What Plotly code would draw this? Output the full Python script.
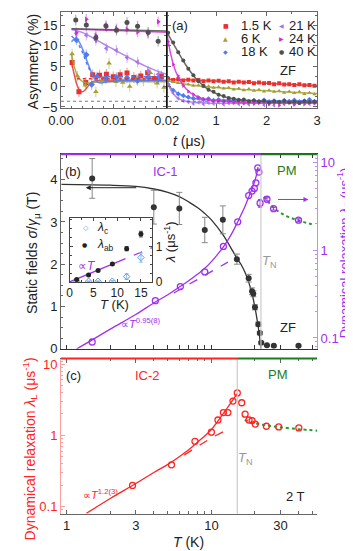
import math
import plotly.graph_objects as go

# ---------------- panel (a): ZF asymmetry ----------------
A_TEMPS = ["1.5 K", "6 K", "18 K", "21 K", "24 K", "40 K"]

# early times (0 - 0.02 us)
TS_15 = [0.0021, 0.0034, 0.0047, 0.0060, 0.0073, 0.0086, 0.0099, 0.0112, 0.0125, 0.0138, 0.0151, 0.0164, 0.0177, 0.0190]
AS_15 = [5.9, -1.3, 1.0, 2.9, 2.8, 3.0, 2.4, 2.9, 3.3, 2.2, 2.6, 3.4, 2.0, 2.6]
TS_6 = [0.0021, 0.0031, 0.0046, 0.0066, 0.0078, 0.0091, 0.0104, 0.0117, 0.0130, 0.0143, 0.0156, 0.0169, 0.0182, 0.0195]
AS_6 = [8.0, 2.6, 0.3, -1.3, 1.5, 5.7, 1.2, 1.0, 0.0, 1.8, 1.4, 3.4, 0.8, -0.2]
TS_18 = [0.0029, 0.0048, 0.0058, 0.0068, 0.0085, 0.0105, 0.0125, 0.0145, 0.0165, 0.0184]
AS_18 = [11.5, 7.8, 0.5, 2.4, 2.0, 2.2, 2.1, 1.5, 2.3, 1.9]
TS_21 = [0.0029, 0.0048, 0.0066, 0.0086, 0.0105, 0.0125, 0.0145, 0.0165, 0.0184]
AS_21 = [13.1, 12.6, 11.4, 9.4, 8.9, 7.1, 6.0, 3.8, 3.0]
TS_24 = [0.0029, 0.0048, 0.0066, 0.0086, 0.0105, 0.0125, 0.0145, 0.0165, 0.0184]
AS_24 = [13.2, 16.5, 12.5, 14.6, 14.2, 14.0, 13.4, 13.0, 15.9]
TS_40 = [0.0028, 0.0048, 0.0066, 0.0085, 0.0105, 0.0125, 0.0145, 0.0165, 0.0184]
AS_40 = [16.3, 15.1, 12.0, 14.9, 13.8, 15.7, 14.8, 13.3, 11.1]
A_ERR_SHORT = 1.3

# fits, early times
FS_15_T = [0.002, 0.0025, 0.003, 0.0035, 0.004, 0.0045, 0.005, 0.0055, 0.006, 0.007, 0.02]
FS_15_A = [6.0, 3.0, 0.5, -0.9, -1.3, -0.9, -0.1, 0.7, 1.2, 1.5, 1.5]
FS_6_T = [0.002, 0.0025, 0.003, 0.0035, 0.004, 0.005, 0.006, 0.008, 0.02]
FS_6_A = [7.8, 5.0, 3.0, 1.9, 1.3, 0.9, 1.0, 1.2, 1.2]
FS_18_T = [0.002, 0.0027, 0.0032, 0.004, 0.005, 0.006, 0.0068, 0.0075, 0.009, 0.012, 0.02]
FS_18_A = [11.0, 11.8, 11.4, 9.5, 6.0, 2.8, 1.2, 0.9, 1.2, 1.5, 1.5]
FS_21_T = [0.002, 0.004, 0.006, 0.008, 0.010, 0.012, 0.014, 0.016, 0.018, 0.020]
FS_21_A = [14.0, 13.3, 12.0, 10.5, 9.1, 7.7, 6.3, 5.0, 3.9, 3.0]
FS_24_T = [0.002, 0.020]
FS_24_A = [14.1, 13.3]
FS_40_T = [0.002, 0.020]
FS_40_A = [14.2, 13.6]
FS_18D_T = [0.002, 0.003, 0.004, 0.005, 0.006, 0.007, 0.009, 0.02]
FS_18D_A = [12.4, 11.0, 8.6, 5.3, 3.0, 2.3, 2.4, 2.4]
FS_15D_T = [0.003, 0.02]
FS_15D_A = [1.9, 1.9]

# long times (0.02 - 3 us)
T_LONG = [0.05, 0.15, 0.25, 0.35, 0.45, 0.55, 0.65, 0.75, 0.85, 0.95, 1.05, 1.15, 1.25, 1.35, 1.45,
          1.55, 1.65, 1.75, 1.85, 1.95, 2.05, 2.15, 2.25, 2.35, 2.45, 2.55, 2.65, 2.75, 2.85, 2.95]
AL_15 = [1.9, 1.6, 1.8, 1.5, 1.7, 1.5, 1.6, 1.3, 1.5, 1.3, 1.4, 1.2, 1.3, 1.0, 1.2,
         1.0, 1.1, 0.8, 1.0, 0.8, 0.9, 0.6, 0.8, 0.5, 0.6, 0.4, 0.6, 0.3, 0.4, 0.2]
AL_6 = [1.4, 1.1, 0.9, 0.5, 0.6, 0.2, 0.3, -0.1, 0.1, -0.3, -0.1, -0.5, -0.3, -0.7, -0.5,
        -0.9, -0.6, -1.0, -0.8, -1.2, -0.9, -1.3, -1.1, -1.5, -1.2, -1.6, -1.3, -1.8, -1.5, -1.9]
AL_18 = [0.5, -0.9, -1.8, -2.2, -2.6, -2.9, -2.8, -3.2, -3.0, -3.4, -3.2, -3.5, -3.3, -3.6, -3.3,
         -3.5, -3.7, -3.4, -3.6, -3.3, -3.7, -3.5, -3.8, -3.4, -3.6, -3.3, -3.7, -3.5, -3.2, -3.6]
AL_21 = [0.4, -1.6, -2.9, -3.5, -3.8, -4.2, -3.9, -4.3, -4.0, -4.2, -3.9, -4.4, -4.1, -3.8, -4.3,
         -4.0, -4.4, -4.1, -3.9, -4.5, -4.2, -4.6, -4.0, -4.3, -3.9, -4.4, -4.1, -3.8, -4.3, -4.0]
AL_24 = [11.0, 5.4, 2.6, 0.2, -1.2, -1.9, -2.6, -3.1, -3.2, -3.6, -3.4, -3.8, -3.7, -4.0, -3.8,
         -4.1, -3.9, -4.2, -4.0, -3.8, -4.3, -4.0, -4.6, -4.1, -3.9, -4.4, -4.0, -4.3, -3.9, -4.1]
AL_40 = [13.2, 10.8, 8.4, 6.4, 4.4, 2.8, 1.3, 0.2, -0.8, -1.3, -2.0, -2.3, -2.8, -3.0, -3.3,
         -3.2, -3.6, -3.4, -3.7, -3.5, -3.9, -3.6, -3.8, -3.5, -3.9, -3.7, -4.0, -3.6, -3.8, -3.7]

# fits, long times
FL_15_T = [0.02, 0.5, 1.0, 1.5, 2.0, 2.5, 3.0]
FL_15_A = [1.8, 1.6, 1.35, 1.1, 0.8, 0.5, 0.2]
FL_6_T = [0.02, 0.2, 0.5, 1.0, 1.5, 2.0, 2.5, 3.0]
FL_6_A = [1.5, 1.0, 0.4, -0.25, -0.7, -1.05, -1.4, -1.7]
FL_18_T = [0.02, 0.1, 0.2, 0.3, 0.5, 0.8, 1.0, 1.5, 2.0, 3.0]
FL_18_A = [1.2, -0.3, -1.3, -2.0, -2.8, -3.2, -3.3, -3.4, -3.5, -3.5]
FL_21_T = [0.02, 0.1, 0.2, 0.3, 0.5, 0.8, 1.2, 2.0, 3.0]
FL_21_A = [2.0, -0.8, -2.4, -3.2, -3.8, -4.0, -4.1, -4.1, -4.0]
FL_24_T = [0.02, 0.05, 0.1, 0.15, 0.2, 0.3, 0.4, 0.5, 0.7, 1.0, 1.5, 2.0, 3.0]
FL_24_A = [13.5, 11.2, 8.0, 5.6, 3.7, 1.2, -0.5, -1.6, -2.8, -3.5, -3.9, -4.0, -4.0]
FL_40_T = [0.02, 0.2, 0.4, 0.6, 0.8, 1.0, 1.2, 1.4, 1.7, 2.0, 2.5, 3.0]
FL_40_A = [13.5, 9.5, 5.3, 2.0, -0.3, -1.7, -2.6, -3.1, -3.5, -3.7, -3.8, -3.8]

A_BASELINE = -3.6

# ---------------- panel (b): ZF static field and lambda_T ----------------
TN_ZF = 22.0
T_ZF = [1.5, 4.0, 6.0, 9.0, 12.0, 15.0, 18.1, 19.1, 19.5, 20.0, 21.1, 21.6, 22.1, 24.2, 27.0, 40.0]
B_STATIC = [4.03, 3.35, 3.32, 2.81, 3.05, 2.12, 1.67, 1.36, 1.30, 0.98, 0.58, 0.37, 0.14, 0.08, 0.07, 0.07]
B_ERR = [0.47, 0.40, 0.38, 0.30, 0.33, 0.12, 0.09, 0.08, 0.07, 0.06, 0.05, 0.04, 0.03, 0.02, 0.02, 0.02]
T_B_FIT = [0.92, 2, 3, 4, 5, 6, 7, 8, 9, 10, 12, 14, 15, 16, 17, 18, 19, 20, 21, 21.5, 22.0]
B_FIT = [3.89, 3.87, 3.84, 3.78, 3.70, 3.60, 3.47, 3.34, 3.20, 3.05, 2.70, 2.32, 2.14, 2.0, 1.82,
         1.6, 1.33, 0.98, 0.55, 0.3, 0.0]

T_LT = [1.5, 4.1, 6.1, 9.0, 12.1, 15.2, 18.1, 19.1, 19.8, 20.3, 20.9, 21.3]
LAM_T = [0.090, 0.266, 0.384, 0.565, 1.10, 2.10, 4.17, 4.70, 5.03, 5.83, 8.64, 7.73]
T_LT_PM = [21.7, 24.2, 26.9, 40.0]
LAM_T_PM = [3.42, 3.79, 2.96, 2.19]
LAM_T_PM_ERR = [0.35, 0.15, 0.1, 0.08]
T_LT_FIT = [1.17, 1.5, 2, 3, 4, 5, 6, 7, 8, 9, 10, 11, 12, 13, 14, 15, 16, 17, 18, 19, 20, 20.6, 21.0]
LAM_T_FIT = [0.075, 0.095, 0.126, 0.185, 0.25, 0.31, 0.38, 0.45, 0.53, 0.62, 0.74, 0.89, 1.07, 1.3,
             1.6, 2.0, 2.5, 3.1, 3.9, 4.9, 6.2, 7.4, 8.8]
T_LT_POW = [5.5, 8.0, 10.5, 13.0]
LAM_T_POW = [0.325, 0.46, 0.60, 0.73]
T_LT_PMFIT = [23, 24.5, 26, 28, 30, 33, 36, 40, 45, 51]
LAM_T_PMFIT = [4.05, 3.6, 3.2, 2.88, 2.66, 2.44, 2.3, 2.18, 2.05, 1.94]

# inset
T_IN = [1.5, 4, 6, 9, 12, 15]
LAM_AB = [0.07, 0.20, 0.32, 0.51, 0.94, 1.35]
LAM_AB_ERR = [0.02, 0.02, 0.02, 0.03, 0.06, 0.08]
LAM_C = [0.02, 0.02, 0.02, 0.02, 0.15, 0.69]
LAM_C_ERR = [0.01, 0.01, 0.01, 0.02, 0.08, 0.13]
T_IN_LIN = [0, 10]
LAM_IN_LIN = [0, 0.56]
T_IN_LIN_D = [10, 17.4]
LAM_IN_LIN_D = [0.56, 0.97]

# ---------------- panel (c): 2 T lambda_L ----------------
TN_2T = 15.1
T_LL = [2.85, 5.3, 7.7, 10.0, 11.1, 12.1, 13.0, 14.1, 15.1]
LAM_L = [0.197, 0.384, 0.824, 1.107, 1.64, 2.09, 2.09, 3.03, 3.94]
T_LL_PM = [16.2, 17.1, 18.2, 19.1, 20.1, 24.0, 29.2, 40.2]
LAM_L_PM = [2.87, 1.98, 1.64, 1.61, 1.44, 1.34, 1.31, 1.27]
T_LL_FIT = [1.37, 2, 3, 4, 5, 6, 7, 8, 9, 10, 11, 12, 13, 14, 15.1]
LAM_L_FIT = [0.08, 0.129, 0.21, 0.30, 0.39, 0.5, 0.63, 0.8, 0.98, 1.2, 1.55, 1.98, 2.5, 3.1, 3.9]
T_LL_POW = [6.5, 8.0, 10.0, 13.2]
LAM_L_POW = [0.53, 0.70, 0.92, 1.23]
T_LL_PMFIT = [17, 20, 25, 30, 40, 54]
LAM_L_PMFIT = [1.64, 1.48, 1.36, 1.30, 1.22, 1.16]

# ---------------- style ----------------
W, H = 353, 551
FONT = "Liberation Sans, Arial, sans-serif"
COLORS = ["#e8312f", "#a3a032", "#4d7cf0", "#a673e8", "#d22fd2", "#505050"]
SYMBOLS = ["square", "triangle-up", "diamond", "triangle-left", "triangle-right", "circle"]
GLYPHS = ["■", "▲", "◆", "◀", "▶", "●"]
PURPLE = "#a030f0"
PURPLE_AX = "#c58cff"
GREEN = "#1e7b1e"
RED = "#ff2424"
RED_AX = "#ff9c9c"
GRAY = "#666666"


def px(x):
    return x / W


def py(y):
    return 1 - y / H


def rgba(hexc, a):
    h = hexc.lstrip("#")
    return "rgba(%d,%d,%d,%.2f)" % (int(h[0:2], 16), int(h[2:4], 16), int(h[4:6], 16), a)


fig = go.Figure()

short = [(TS_15, AS_15), (TS_6, AS_6), (TS_18, AS_18), (TS_21, AS_21), (TS_24, AS_24), (TS_40, AS_40)]
short_fit = [(FS_15_T, FS_15_A), (FS_6_T, FS_6_A), (FS_18_T, FS_18_A), (FS_21_T, FS_21_A),
             (FS_24_T, FS_24_A), (FS_40_T, FS_40_A)]
long_pts = [AL_15, AL_6, AL_18, AL_21, AL_24, AL_40]
long_fit = [(FL_15_T, FL_15_A), (FL_6_T, FL_6_A), (FL_18_T, FL_18_A), (FL_21_T, FL_21_A),
            (FL_24_T, FL_24_A), (FL_40_T, FL_40_A)]

for i in range(6):
    c = COLORS[i]
    t, a = short[i]
    fig.add_trace(go.Scatter(x=t, y=a, mode="markers", xaxis="x", yaxis="y",
                             marker=dict(symbol=SYMBOLS[i], size=5, color=c),
                             error_y=dict(type="constant", value=A_ERR_SHORT, color=rgba(c, 0.45),
                                          thickness=1.2, width=0)))
    ft, fa = short_fit[i]
    fig.add_trace(go.Scatter(x=ft, y=fa, mode="lines", xaxis="x", yaxis="y", line_shape="spline",
                             line=dict(color=rgba(c, 0.85), width=1.5)))
    fig.add_trace(go.Scatter(x=T_LONG, y=long_pts[i], mode="markers", xaxis="x2", yaxis="y2",
                             marker=dict(symbol=SYMBOLS[i], size=4, color=c),
                             error_y=dict(type="constant", value=0.3, color=rgba(c, 0.4),
                                          thickness=1, width=0)))
    lt, la = long_fit[i]
    fig.add_trace(go.Scatter(x=lt, y=la, mode="lines", xaxis="x2", yaxis="y2", line_shape="spline",
                             line=dict(color=rgba(c, 0.85), width=1.5)))

fig.add_trace(go.Scatter(x=FS_18D_T, y=FS_18D_A, mode="lines", xaxis="x", yaxis="y", line_shape="spline",
                         line=dict(color=COLORS[2], width=1.5, dash="dot")))
fig.add_trace(go.Scatter(x=FS_15D_T, y=FS_15D_A, mode="lines", xaxis="x", yaxis="y",
                         line=dict(color=COLORS[0], width=1.5, dash="dot")))

# ---- panel (b)
fig.add_trace(go.Scatter(x=T_B_FIT, y=B_FIT, mode="lines", xaxis="x3", yaxis="y3", line_shape="spline",
                         line=dict(color="#333333", width=1.3)))
fig.add_trace(go.Scatter(x=T_ZF, y=B_STATIC, mode="markers", xaxis="x3", yaxis="y3",
                         marker=dict(symbol="circle", size=6, color="#333333"),
                         error_y=dict(type="data", array=B_ERR, color="#888888", thickness=1, width=3)))
fig.add_trace(go.Scatter(x=T_LT_FIT, y=LAM_T_FIT, mode="lines", xaxis="x3", yaxis="y4", line_shape="spline",
                         line=dict(color=PURPLE, width=1.3)))
fig.add_trace(go.Scatter(x=T_LT_POW, y=LAM_T_POW, mode="lines", xaxis="x3", yaxis="y4",
                         line=dict(color=PURPLE, width=1.3, dash="dash")))
fig.add_trace(go.Scatter(x=T_LT_PMFIT, y=LAM_T_PMFIT, mode="lines", xaxis="x3", yaxis="y4", line_shape="spline",
                         line=dict(color="#2a9a2a", width=2, dash="dot")))
fig.add_trace(go.Scatter(x=T_LT, y=LAM_T, mode="markers", xaxis="x3", yaxis="y4",
                         marker=dict(symbol="circle-open", size=6, color=PURPLE, line=dict(width=1.3))))
fig.add_trace(go.Scatter(x=T_LT_PM, y=LAM_T_PM, mode="markers", xaxis="x3", yaxis="y4",
                         marker=dict(symbol="circle-open", size=6, color=PURPLE, line=dict(width=1.3)),
                         error_y=dict(type="data", array=LAM_T_PM_ERR, color=PURPLE, thickness=1, width=2)))

# inset
fig.add_trace(go.Scatter(x=T_IN_LIN, y=LAM_IN_LIN, mode="lines", xaxis="x6", yaxis="y6",
                         line=dict(color=PURPLE, width=1.3)))
fig.add_trace(go.Scatter(x=T_IN_LIN_D, y=LAM_IN_LIN_D, mode="lines", xaxis="x6", yaxis="y6",
                         line=dict(color=PURPLE, width=1.3, dash="dash")))
fig.add_trace(go.Scatter(x=T_IN, y=LAM_C, mode="markers", xaxis="x6", yaxis="y6",
                         marker=dict(symbol="diamond-open", size=5, color="#5b9be0", line=dict(width=1)),
                         error_y=dict(type="data", array=LAM_C_ERR, color="#8fb8e8", thickness=1, width=2)))
fig.add_trace(go.Scatter(x=T_IN, y=LAM_AB, mode="markers", xaxis="x6", yaxis="y6",
                         marker=dict(symbol="circle", size=5, color="#222222"),
                         error_y=dict(type="data", array=LAM_AB_ERR, color="#555555", thickness=1, width=2)))

# ---- panel (c)
fig.add_trace(go.Scatter(x=T_LL_FIT, y=LAM_L_FIT, mode="lines", xaxis="x5", yaxis="y5", line_shape="spline",
                         line=dict(color=RED, width=1.3)))
fig.add_trace(go.Scatter(x=T_LL_POW, y=LAM_L_POW, mode="lines", xaxis="x5", yaxis="y5",
                         line=dict(color=RED, width=1.3, dash="dash")))
fig.add_trace(go.Scatter(x=T_LL_PMFIT, y=LAM_L_PMFIT, mode="lines", xaxis="x5", yaxis="y5", line_shape="spline",
                         line=dict(color="#2a9a2a", width=2, dash="dot")))
fig.add_trace(go.Scatter(x=T_LL + T_LL_PM, y=LAM_L + LAM_L_PM, mode="markers", xaxis="x5", yaxis="y5",
                         marker=dict(symbol="circle-open", size=6, color=RED, line=dict(width=1.3))))

# ---------------- axes ----------------
tick = dict(ticks="inside", showgrid=False, zeroline=False, showline=True,
            tickfont=dict(size=13, family=FONT, color="#222"))

XLOG = [math.log10(0.913), math.log10(53.7)]
T_MAJ = [1, 3, 10, 30]
T_MIN = [2, 4, 5, 6, 7, 8, 9, 20, 40, 50]
LOG_MIN = [0.08, 0.09, 0.2, 0.3, 0.4, 0.5, 0.6, 0.7, 0.8, 0.9, 2, 3, 4, 5, 6, 7, 8, 9]

fig.update_layout(
    width=W, height=H, margin=dict(l=0, r=0, t=0, b=0),
    plot_bgcolor="white", paper_bgcolor="white", showlegend=False,
    font=dict(family=FONT, size=13, color="#222"),
    xaxis=dict(tick, domain=[px(42), px(153)], range=[0, 0.02], anchor="y", mirror="allticks",
               linecolor=GRAY, tickcolor=GRAY, ticklen=4, tickvals=[0, 0.01], ticktext=["0.00", "0.01"],
               minor=dict(ticks="inside", ticklen=2.5, dtick=0.002, tickcolor=GRAY)),
    yaxis=dict(tick, domain=[py(100), py(2)], range=[-5.3, 18.3], anchor="x", mirror="allticks",
               linecolor=GRAY, tickcolor=GRAY, ticklen=4, tickvals=[-5, 0, 5, 10, 15],
               minor=dict(ticks="inside", ticklen=2.5, dtick=2.5, tickcolor=GRAY)),
    xaxis2=dict(tick, domain=[px(153), px(311)], range=[0.02, 3.0], anchor="y2", mirror="allticks",
                linecolor=GRAY, tickcolor=GRAY, ticklen=4, tickvals=[0.02, 1, 2, 3],
                ticktext=["0.02", "1", "2", "3"],
                minor=dict(ticks="inside", ticklen=2.5, tickvals=[0.5, 1.5, 2.5], tickcolor=GRAY)),
    yaxis2=dict(tick, domain=[py(100), py(2)], range=[-5.3, 18.3], anchor="x2", mirror="allticks",
                linecolor=GRAY, tickcolor=GRAY, ticklen=4, tickvals=[-5, 0, 5, 10, 15], showticklabels=False,
                minor=dict(ticks="inside", ticklen=2.5, dtick=2.5, tickcolor=GRAY)),
    # panel (b)
    xaxis3=dict(tick, domain=[px(42), px(311)], type="log", range=XLOG, anchor="y3", mirror="allticks",
                linecolor="#333", tickcolor="#333", ticklen=4, tickvals=T_MAJ, showticklabels=False,
                minor=dict(ticks="inside", ticklen=2.5, tickvals=T_MIN, tickcolor="#333")),
    yaxis3=dict(tick, domain=[py(345), py(147)], range=[0, 4.6], anchor="x3",
                linecolor=GRAY, tickcolor=GRAY, ticklen=4, tickvals=[0, 1, 2, 3, 4],
                minor=dict(ticks="inside", ticklen=2.5, dtick=0.25, tickcolor=GRAY)),
    yaxis4=dict(tick, type="log", range=[math.log10(0.0754), math.log10(12.3)], overlaying="y3",
                anchor="x3", side="right", linecolor=PURPLE_AX, tickcolor=PURPLE_AX, ticklen=4,
                tickvals=[0.1, 1, 10], ticktext=["0.1", "1", "10"],
                tickfont=dict(size=13, family=FONT, color=PURPLE),
                minor=dict(ticks="inside", ticklen=2.5, tickvals=LOG_MIN + [11, 12], tickcolor=PURPLE_AX)),
    # inset
    xaxis6=dict(tick, domain=[px(51), px(138)], range=[0, 17.4], anchor="y6", mirror="allticks",
                linecolor="#444", tickcolor="#444", ticklen=3, tickvals=[0, 5, 10, 15],
                tickfont=dict(size=12, family=FONT, color="#222"),
                minor=dict(ticks="inside", ticklen=2, dtick=2.5, tickcolor="#444")),
    yaxis6=dict(tick, domain=[py(277), py(212)], range=[0, 1.8], anchor="x6", side="right",
                mirror="allticks", linecolor="#444", tickcolor="#444", ticklen=3, tickvals=[0, 1],
                tickfont=dict(size=12, family=FONT, color="#222"),
                minor=dict(ticks="inside", ticklen=2, dtick=0.25, tickcolor="#444")),
    # panel (c)
    xaxis5=dict(tick, domain=[px(42), px(311)], type="log", range=XLOG, anchor="y5", mirror="allticks",
                linecolor=GRAY, tickcolor=GRAY, ticklen=4, tickvals=T_MAJ, ticktext=["1", "3", "10", "30"],
                minor=dict(ticks="inside", ticklen=2.5, tickvals=T_MIN, tickcolor=GRAY)),
    yaxis5=dict(tick, domain=[py(513), py(355)], type="log", range=[math.log10(0.079), math.log10(12.0)],
                anchor="x5", linecolor=RED_AX, tickcolor=RED_AX, ticklen=4,
                tickvals=[0.1, 1, 10], ticktext=["0.1", "1", "10"],
                tickfont=dict(size=13, family=FONT, color=RED),
                minor=dict(ticks="inside", ticklen=2.5, tickvals=LOG_MIN + [11], tickcolor=RED_AX)),
    yaxis7=dict(tick, domain=[py(513), py(355)], type="log", range=[math.log10(0.079), math.log10(12.0)],
                overlaying="y5", anchor="x5", side="right", linecolor=GRAY, tickcolor=GRAY, ticklen=4,
                tickvals=[0.1, 1, 10], showticklabels=False,
                minor=dict(ticks="inside", ticklen=2.5, tickvals=LOG_MIN + [11], tickcolor=GRAY)),
)

# ---------------- shapes ----------------
x_lo, x_hi = 10 ** XLOG[0], 10 ** XLOG[1]
shapes = [
    dict(type="line", xref="x2 domain", yref="y2 domain", x0=0, x1=0, y0=0, y1=1,
         line=dict(color="#111", width=1.3)),
    dict(type="line", xref="paper", yref="y", x0=px(42), x1=px(311), y0=A_BASELINE, y1=A_BASELINE,
         line=dict(color="#555", width=0.8, dash="dot")),
    dict(type="line", xref="x3", yref="y3 domain", x0=TN_ZF, x1=TN_ZF, y0=0, y1=1,
         line=dict(color="#cccccc", width=1.2)),
    dict(type="line", xref="x5", yref="y5 domain", x0=TN_2T, x1=TN_2T, y0=0, y1=1,
         line=dict(color="#cccccc", width=1.2)),
    dict(type="line", xref="x3", yref="y3 domain", x0=x_lo, x1=TN_ZF, y0=1, y1=1,
         line=dict(color=PURPLE, width=2)),
    dict(type="line", xref="x3", yref="y3 domain", x0=TN_ZF, x1=x_hi, y0=1, y1=1,
         line=dict(color=GREEN, width=2)),
    dict(type="line", xref="x5", yref="y5 domain", x0=x_lo, x1=TN_2T, y0=1, y1=1,
         line=dict(color=RED, width=2)),
    dict(type="line", xref="x5", yref="y5 domain", x0=TN_2T, x1=x_hi, y0=1, y1=1,
         line=dict(color=GREEN, width=2)),
]
fig.update_layout(shapes=shapes)

# ---------------- annotations ----------------
ann = []


def note(x, y, text, color="#222", size=13, angle=0, xanchor="center", fam=FONT):
    ann.append(dict(x=px(x), y=py(y), xref="paper", yref="paper", text=text, showarrow=False,
                    textangle=angle, xanchor=xanchor, yanchor="middle", borderpad=0,
                    font=dict(size=size, color=color, family=fam)))


# axis titles
note(13, 52, "Asymmetry (%)", size=14, angle=-90)
note(176, 133, "<i>t</i> (μs)", size=14)
note(12, 247, "Static fields <i>σ</i>/<i>γ</i><sub>μ</sub> (T)", size=14, angle=-90)
note(339, 247, "Dynamical relaxation <i>λ</i><sub>T</sub> (μs<sup>-1</sup>)", size=13, angle=-90, color=PURPLE)
note(9, 447, "Dynamical relaxation <i>λ</i><sub>L</sub> (μs<sup>-1</sup>)", size=14, angle=-90, color=RED)
note(176, 542, "<i>T</i> (K)", size=14)
note(98, 300, "<i>T</i> (K)", size=13)
note(156, 236, "<i>λ</i> (μs<sup>-1</sup>)", size=13, angle=-90)

# panel labels
note(167, 16, "(a)")
note(280, 62, "ZF")
note(55, 164, "(b)")
note(152, 164, "IC-1", color=PURPLE)
note(279, 163, "PM", color=GREEN)
note(261, 256, "<i>T</i><sub>N</sub>", color="#999999")
note(281, 323, "ZF")
note(126, 319, "∝<i>T</i><sup>0.95(8)</sup>", color=PURPLE, size=11)
note(69, 261, "∝<i>T</i>", color=PURPLE, size=12)
note(55, 372, "(c)")
note(133, 372, "IC-2", color=RED)
note(270, 371, "PM", color=GREEN)
note(236, 457, "<i>T</i><sub>N</sub>", color="#999999")
note(288, 496, "2 T")
note(83, 493, "∝<i>T</i><sup>1.2(3)</sup>", color=RED, size=11)

# legend of (a): two columns of three
for i, lab in enumerate(A_TEMPS):
    col, row = i // 3, i % 3
    yy = 15.7 + 13.3 * row
    note(215 + 59 * col, yy, GLYPHS[i], color=COLORS[i], size=6, fam="DejaVu Sans")
    note(230 + 51 * col, yy, lab, xanchor="left")

# inset legend
note(68, 222, "◇", color="#5b9be0", size=7, fam="DejaVu Sans")
note(79, 222, "<i>λ</i><sub>c</sub>", xanchor="left", size=12)
note(67, 239, "●", color="#222", size=6, fam="DejaVu Sans")
note(79, 239, "<i>λ</i><sub>ab</sub>", xanchor="left", size=12)

# arrows pointing to the relevant axis
ann.append(dict(x=px(68), y=py(181), xref="paper", yref="paper", ax=52, ay=0, showarrow=True,
                arrowhead=2, arrowsize=1, arrowwidth=1, arrowcolor="#222", text=""))
ann.append(dict(x=px(302), y=py(193), xref="paper", yref="paper", ax=-32, ay=0, showarrow=True,
                arrowhead=2, arrowsize=1, arrowwidth=1, arrowcolor=PURPLE, text=""))

fig.update_layout(annotations=ann)

fig.write_html("out.html")
